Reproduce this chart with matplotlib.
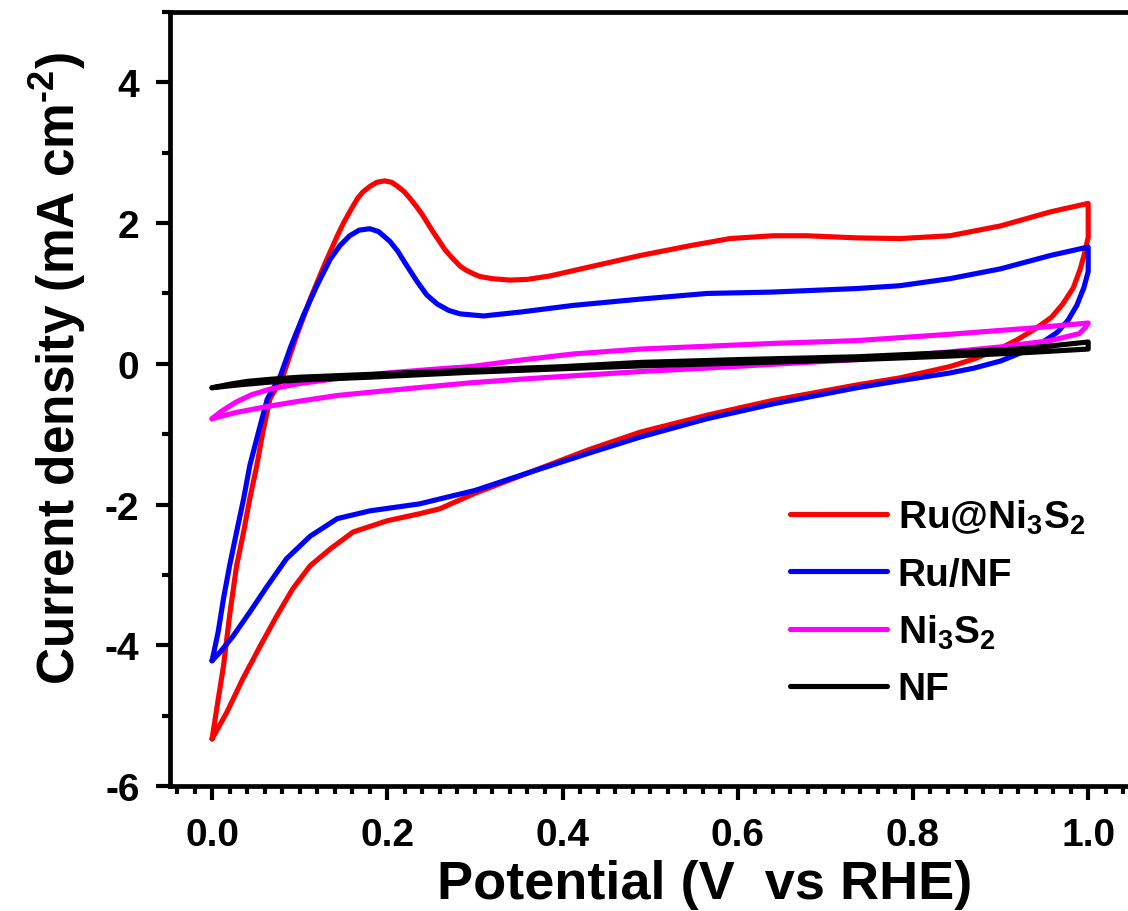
import matplotlib
matplotlib.use("Agg")
import matplotlib.pyplot as plt
from matplotlib.ticker import MultipleLocator

plt.rcParams['font.family'] = ['Liberation Sans', 'DejaVu Sans']
plt.rcParams['font.weight'] = 'bold'
plt.rcParams['axes.unicode_minus'] = False
plt.rcParams['mathtext.fontset'] = 'custom'
plt.rcParams['mathtext.rm'] = 'Liberation Sans:bold'
plt.rcParams['mathtext.bf'] = 'Liberation Sans:bold'
plt.rcParams['mathtext.it'] = 'Liberation Sans:bold'

# ---- data (potential V vs RHE, current density mA cm^-2) ----
ru_ni3s2_x = [0.000, 0.007, 0.013, 0.020, 0.028, 0.036, 0.043, 0.051, 0.058, 0.066, 0.081, 0.096, 0.112,
              0.128, 0.143, 0.150, 0.158, 0.166, 0.172, 0.180, 0.188, 0.197, 0.205, 0.212, 0.219, 0.226,
              0.233, 0.240, 0.246, 0.252, 0.259, 0.266, 0.273, 0.283, 0.290, 0.300, 0.306, 0.320, 0.340,
              0.360, 0.386, 0.432, 0.489, 0.546, 0.591, 0.640, 0.679, 0.736, 0.785, 0.842, 0.900, 0.957,
              1.000,
              1.000, 0.996, 0.991, 0.983, 0.971, 0.958, 0.940, 0.920, 0.900, 0.870, 0.842, 0.785, 0.736,
              0.640, 0.565, 0.489, 0.430, 0.363, 0.300, 0.260, 0.237, 0.200, 0.161, 0.135, 0.112, 0.092,
              0.074, 0.055, 0.035, 0.017, 0.000]
ru_ni3s2_y = [-5.33, -4.77, -4.30, -3.58, -2.87, -2.39, -1.92, -1.45, -0.97, -0.50, -0.17, 0.38, 0.92,
              1.40, 1.82, 2.00, 2.18, 2.35, 2.44, 2.52, 2.58, 2.60, 2.58, 2.52, 2.45, 2.35,
              2.24, 2.12, 2.00, 1.88, 1.75, 1.62, 1.52, 1.39, 1.33, 1.27, 1.24, 1.21, 1.19,
              1.20, 1.25, 1.38, 1.54, 1.68, 1.78, 1.82, 1.82, 1.79, 1.78, 1.82, 1.96, 2.16,
              2.28,
              1.80, 1.58, 1.35, 1.08, 0.85, 0.66, 0.50, 0.35, 0.22, 0.07, -0.04, -0.20, -0.30,
              -0.52, -0.73, -0.97, -1.22, -1.54, -1.84, -2.06, -2.13, -2.23, -2.39, -2.63, -2.87, -3.20,
              -3.58, -4.01, -4.48, -4.95, -5.33]

ru_nf_x = [0.000, 0.007, 0.013, 0.020, 0.028, 0.036, 0.043, 0.053, 0.063, 0.078, 0.090, 0.104, 0.120,
           0.135, 0.146, 0.157, 0.168, 0.180, 0.190, 0.203, 0.212, 0.222, 0.234, 0.245, 0.257, 0.270,
           0.283, 0.310, 0.355, 0.412, 0.489, 0.565, 0.640, 0.736, 0.785, 0.842, 0.900, 0.957, 1.000,
           1.000, 0.995, 0.987, 0.977, 0.965, 0.946, 0.926, 0.900, 0.870, 0.842, 0.785, 0.736, 0.640,
           0.565, 0.489, 0.430, 0.363, 0.300, 0.260, 0.237, 0.180, 0.143, 0.112, 0.085, 0.063, 0.043,
           0.024, 0.009, 0.000]
ru_nf_y = [-4.22, -3.81, -3.34, -2.87, -2.39, -1.92, -1.45, -0.97, -0.50, -0.17, 0.25, 0.68, 1.12,
           1.49, 1.68, 1.82, 1.90, 1.92, 1.88, 1.74, 1.60, 1.40, 1.17, 0.98, 0.85, 0.76,
           0.71, 0.68, 0.74, 0.83, 0.92, 1.00, 1.02, 1.07, 1.11, 1.21, 1.35, 1.54, 1.66,
           1.31, 1.08, 0.83, 0.62, 0.45, 0.29, 0.17, 0.04, -0.06, -0.13, -0.24, -0.34, -0.57,
           -0.78, -1.04, -1.27, -1.54, -1.80, -1.92, -1.99, -2.09, -2.20, -2.45, -2.77, -3.16, -3.53,
           -3.87, -4.10, -4.22]

ni3s2_x = [0.000, 0.010, 0.028, 0.045, 0.066, 0.100, 0.143, 0.200, 0.260, 0.295, 0.350, 0.412, 0.489,
           0.565, 0.640, 0.736, 0.842, 0.937, 1.000,
           0.997, 0.990, 0.957, 0.900, 0.842, 0.736, 0.650, 0.565, 0.489, 0.412, 0.350, 0.295, 0.260,
           0.200, 0.143, 0.100, 0.066, 0.045, 0.028, 0.012, 0.000]
ni3s2_y = [-0.78, -0.68, -0.54, -0.44, -0.36, -0.28, -0.21, -0.13, -0.07, -0.04, 0.05, 0.14, 0.21,
           0.25, 0.29, 0.33, 0.42, 0.51, 0.58,
           0.52, 0.43, 0.33, 0.24, 0.17, 0.06, 0.00, -0.06, -0.11, -0.17, -0.22, -0.27, -0.31,
           -0.38, -0.45, -0.53, -0.60, -0.65, -0.69, -0.74, -0.78]

nf_x = [0.000, 0.020, 0.040, 0.066, 0.100, 0.180, 0.295, 0.400, 0.489, 0.600, 0.736, 0.842, 0.930, 1.000,
        1.000, 0.930, 0.842, 0.736, 0.600, 0.489, 0.400, 0.295, 0.180, 0.100, 0.066, 0.030, 0.000]
nf_y = [-0.34, -0.29, -0.25, -0.22, -0.19, -0.15, -0.09, -0.04, 0.02, 0.06, 0.10, 0.16, 0.22, 0.31,
        0.21, 0.16, 0.11, 0.06, 0.01, -0.03, -0.07, -0.12, -0.19, -0.23, -0.26, -0.30, -0.34]

labels = [r'Ru@Ni$_{3}$S$_{2}$', 'Ru/NF', r'Ni$_{3}$S$_{2}$', 'NF']
colors = ['#FF0000', '#0000FF', '#FF00FF', '#000000']

fig = plt.figure(figsize=(11.28, 9.12), dpi=100)
W, H = 1128, 912
left, right, top, bottom = 170, 1132, 13, 787
ax = fig.add_axes([left / W, 1 - bottom / H, (right - left) / W, (bottom - top) / H])

series = [(ru_ni3s2_x, ru_ni3s2_y), (ru_nf_x, ru_nf_y), (ni3s2_x, ni3s2_y), (nf_x, nf_y)]
for (xs, ys), lab, c in zip(series, labels, colors):
    ax.plot(xs, ys, color=c, lw=3.7, label=lab, solid_joinstyle='round', solid_capstyle='round')

ax.set_xlim(-0.048, 1.05)
ax.set_ylim(-6, 5)
ax.xaxis.set_minor_locator(MultipleLocator(0.02))
ax.yaxis.set_minor_locator(MultipleLocator(1))
ax.set_yticks([-6, -4, -2, 0, 2, 4])
ax.set_xticks([0.0, 0.2, 0.4, 0.6, 0.8, 1.0])
ax.set_xticklabels(['0.0', '0.2', '0.4', '0.6', '0.8', '1.0'])
ax.set_yticklabels(['-6', '-4', '-2', '0', '2', '4'])

for s in ['left', 'bottom', 'top']:
    ax.spines[s].set_linewidth(3.4)
ax.spines['right'].set_visible(False)
ax.tick_params(which='major', direction='out', length=10, width=3, labelsize=28, pad=12,
               top=False, right=False)
ax.tick_params(which='minor', direction='out', length=6, width=3, top=False, right=False)
ax.tick_params(axis='x', which='major', pad=12)
for lab in ax.get_xticklabels() + ax.get_yticklabels():
    lab.set_fontweight('bold')

ax.set_xlabel('Potential (V  vs RHE)', fontsize=39, fontweight='bold', labelpad=5)
ax.set_ylabel(r'Current density (mA cm$^{\text{-2}}$)', fontsize=37, fontweight='bold', labelpad=12)
ax.xaxis.label.set_x(0.556)
ax.yaxis.label.set_y(0.54)

leg = ax.legend(loc='upper left', bbox_to_anchor=(790 / W, 1 - 499 / H), bbox_transform=fig.transFigure,
                frameon=False, fontsize=28, handlelength=2.5, handletextpad=0.27,
                labelspacing=0.52, borderpad=0, borderaxespad=0)
for t in leg.get_texts():
    t.set_fontweight('bold')
for l in leg.get_lines():
    l.set_linewidth(3.7)

fig.savefig('out.png', dpi=100)
